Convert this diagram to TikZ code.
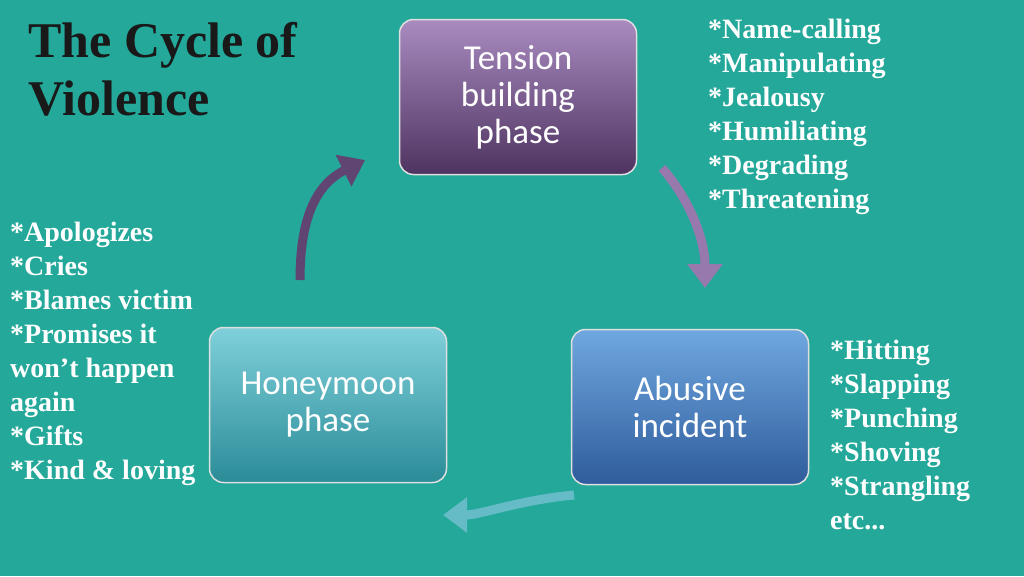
\documentclass[tikz,border=0pt]{standalone}
\usepackage{fontspec}
\setmainfont{Liberation Serif}
\newfontfamily\boxfont{Carlito}
\usetikzlibrary{arrows.meta}
\definecolor{bg}{HTML}{23A89A}
\definecolor{tt}{HTML}{A98BC0}
\definecolor{tb}{HTML}{4E3360}
\definecolor{ht}{HTML}{7FD0DA}
\definecolor{hb}{HTML}{2A8C98}
\definecolor{at}{HTML}{6FA8E0}
\definecolor{ab}{HTML}{2F5C9C}
\tikzset{
 phase/.style={rounded corners=14pt, minimum width=237pt, minimum height=155pt, draw=white!75!gray, line width=1.5pt, font=\boxfont\fontsize{35}{37}\selectfont, text=white, align=center},
 lst/.style={anchor=north west, align=left, font=\bfseries\fontsize{28}{34}\selectfont, text=white, inner sep=0pt},
 cyc/.style={line width=9pt, draw=#1, -{Triangle[length=24pt,width=34pt]}},
}
\begin{document}
\begin{tikzpicture}[x=1pt,y=-1pt]
\fill[bg] (0,0) rectangle (1024,576);
\useasboundingbox (0,0) rectangle (1024,576);
\node[anchor=north west, align=left, font=\bfseries\fontsize{50}{58}\selectfont, text=black!90, inner sep=0pt] (title) at (28,22) {The Cycle of\\Violence};
\node[phase, top color=tt, bottom color=tb] (t) at (518,97) {Tension\\building\\phase};
\node[phase, top color=ht, bottom color=hb] (h) at (328,405) {Honeymoon\\phase};
\node[phase, top color=at, bottom color=ab] (a) at (690,407) {Abusive\\incident};
\node[lst] (l1) at (708,19) {*Name-calling\\*Manipulating\\*Jealousy\\*Humiliating\\*Degrading\\*Threatening};
\node[lst] (l2) at (10,222) {*Apologizes\\*Cries\\*Blames victim\\*Promises it\\won\symbol{39}t happen\\again\\*Gifts\\*Kind \& loving};
\node[lst] (l3) at (830,340) {*Hitting\\*Slapping\\*Punching\\*Shoving\\*Strangling\\etc...};
\coordinate (p1) at (300,280); \coordinate (q1) at (365,160);
\coordinate (p2) at (662,168); \coordinate (q2) at (705,288);
\coordinate (p3) at (574,495); \coordinate (q3) at (443,515);
\draw[cyc=tb!80!tt] (p1) .. controls (300,220) and (315,185) .. (q1);
\draw[cyc=tt!80!tb] (p2) .. controls (690,200) and (705,240) .. (q2);
\draw[cyc=ht!70!hb] (p3) .. controls (520,500) and (480,515) .. (q3);
\end{tikzpicture}
\end{document}
